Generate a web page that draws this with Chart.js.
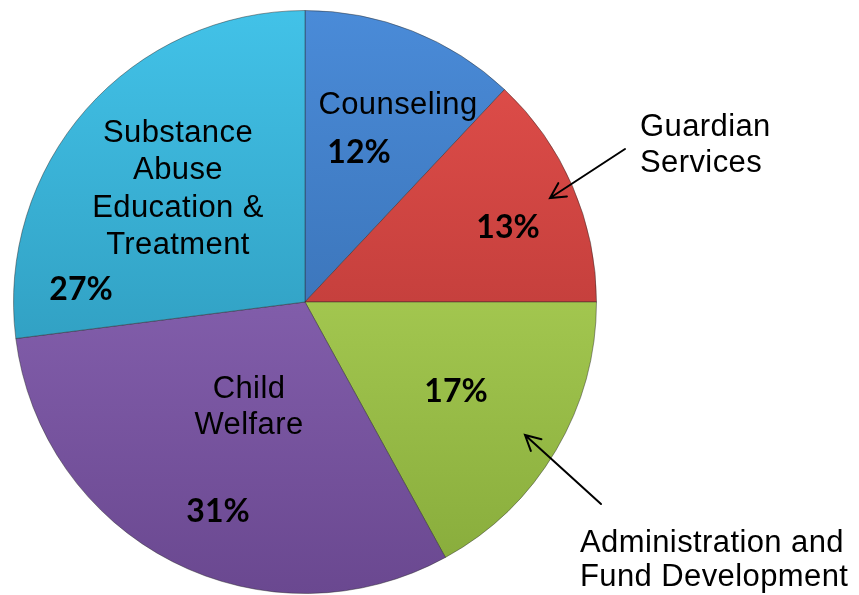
<!DOCTYPE html>
<html>
<head>
<meta charset="utf-8">
<script src="https://cdn.jsdelivr.net/npm/chart.js@4/dist/chart.umd.min.js"></script>
<style>
  html, body { margin: 0; padding: 0; background: #ffffff; }
  #wrap { width: 859px; height: 595px; position: relative; overflow: hidden; }
</style>
</head>
<body>
<div id="wrap"><canvas id="c" width="859" height="595"></canvas></div>
<script>
// ---- data ----
const categories = ['Counseling', 'Guardian Services', 'Administration and Fund Development', 'Child Welfare', 'Substance Abuse Education & Treatment'];
const shares = [12, 13, 17, 31, 27];
const percentLabels = ['12%', '13%', '17%', '31%', '27%'];

// ---- style ----
const gradTop    = ['#4A8BD8', '#E4504C', '#BEE264', '#9872C4', '#42C2E8'];
const gradBottom = ['#2F62A0', '#A8302E', '#86AA3A', '#6A4890', '#2588A8'];

// text layout (offsets from pie centre, px)
const nameLayout = [
  { lines: ['Counseling'], dx: 93, dy: -197, align: 'center', lh: 36 },
  { lines: ['Guardian', 'Services'], dx: 335, dy: -175, align: 'left', lh: 36 },
  { lines: ['Administration and', 'Fund Development'], dx: 275, dy: 241, align: 'left', lh: 34 },
  { lines: ['Child', 'Welfare'], dx: -56, dy: 87, align: 'center', lh: 36 },
  { lines: ['Substance', 'Abuse', 'Education &', 'Treatment'], dx: -127, dy: -169, align: 'center', lh: 37.5 }
];
const pctLayout = [
  { dx: 54, dy: -149 }, { dx: 203, dy: -74 }, { dx: 151, dy: 90 }, { dx: -87, dy: 210 }, { dx: -224, dy: -12 }
];
const arrows = [
  { from: [320, -153], to: [245, -104] },
  { from: [296, 202], to: [220, 133] }
];

function sliceFill(ctx) {
  const chart = ctx.chart;
  const a = chart.chartArea;
  if (!a) return gradTop[ctx.dataIndex];
  const g = chart.ctx.createLinearGradient(0, a.top, 0, a.bottom);
  g.addColorStop(0, gradTop[ctx.dataIndex]);
  g.addColorStop(1, gradBottom[ctx.dataIndex]);
  return g;
}

const annotate = {
  id: 'annotate',
  afterDatasetsDraw(chart) {
    const meta = chart.getDatasetMeta(0);
    const arc = meta.data[0];
    const cx = arc.x, cy = arc.y;
    const c = chart.ctx;
    c.save();
    c.fillStyle = '#000000';
    c.textBaseline = 'middle';
    c.font = '31px "Liberation Sans", Arial, sans-serif';
    if ('letterSpacing' in c) c.letterSpacing = '0.4px';
    nameLayout.forEach(n => {
      c.textAlign = n.align;
      n.lines.forEach((t, i) => c.fillText(t, cx + n.dx, cy + n.dy + i * n.lh));
    });
    if ('letterSpacing' in c) c.letterSpacing = '0px';
    c.font = 'bold 32px Lato, "Open Sans", sans-serif';
    c.textAlign = 'center';
    pctLayout.forEach((p, i) => c.fillText(percentLabels[i], cx + p.dx, cy + p.dy));
    c.strokeStyle = '#000000';
    c.lineWidth = 2;
    c.lineCap = 'round';
    arrows.forEach(ar => {
      const x1 = cx + ar.from[0], y1 = cy + ar.from[1];
      const x2 = cx + ar.to[0], y2 = cy + ar.to[1];
      const ang = Math.atan2(y2 - y1, x2 - x1);
      const L = 17, spread = Math.PI / 6.5;
      c.beginPath();
      c.moveTo(x1, y1); c.lineTo(x2, y2);
      c.moveTo(x2 - L * Math.cos(ang - spread), y2 - L * Math.sin(ang - spread));
      c.lineTo(x2, y2);
      c.lineTo(x2 - L * Math.cos(ang + spread), y2 - L * Math.sin(ang + spread));
      c.stroke();
    });
    c.restore();
  }
};

new Chart(document.getElementById('c'), {
  type: 'pie',
  data: {
    labels: categories,
    datasets: [{
      data: shares,
      backgroundColor: sliceFill,
      borderColor: 'rgba(40,40,40,0.45)',
      borderWidth: 1
    }]
  },
  options: {
    responsive: false,
    animation: false,
    layout: { padding: { left: 13, top: 10, right: 262, bottom: 1 } },
    plugins: {
      legend: { display: false },
      tooltip: { enabled: false }
    }
  },
  plugins: [annotate]
});
</script>
</body>
</html>
